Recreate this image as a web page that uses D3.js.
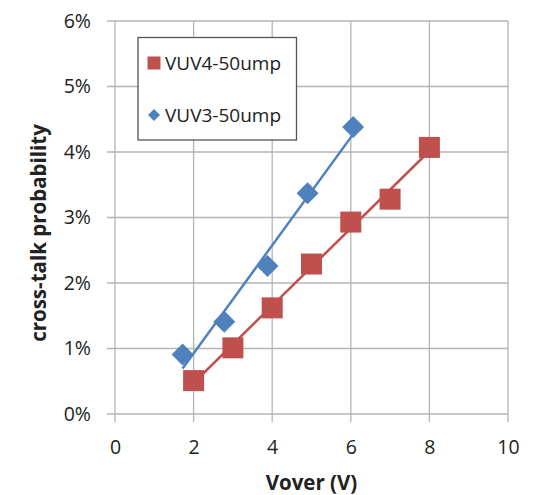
<!DOCTYPE html>
<html>
<head>
<meta charset="utf-8">
<script src="https://cdn.jsdelivr.net/npm/d3@7"></script>
<style>
  html, body { margin: 0; padding: 0; background: #fff; }
  svg { display: block; }
  text { font-family: "Open Sans", "DejaVu Sans", sans-serif; fill: #222; }
</style>
</head>
<body>
<svg id="chart" width="539" height="495"></svg>
<script>
// ---- data ----
const seriesNames = ["VUV4-50ump", "VUV3-50ump"];
const vuv4X = [2, 3, 4, 5, 6, 7, 8];
const vuv4Y = [0.0051, 0.0101, 0.0162, 0.0229, 0.0293, 0.0328, 0.0407];
const vuv3X = [1.72, 2.78, 3.88, 4.9, 6.06];
const vuv3Y = [0.0091, 0.0141, 0.0226, 0.0337, 0.0438];
const xTicks = [0, 2, 4, 6, 8, 10];
const yTicks = [0, 0.01, 0.02, 0.03, 0.04, 0.05, 0.06];
const xTitle = "Vover (V)";
const yTitle = "cross-talk probability";

const colors = { red: "#C0504D", blue: "#4F81BD" };

const svg = d3.select("#chart");
const pL = 115, pR = 508, pT = 21, pB = 414;

const x = d3.scaleLinear().domain([0, 10]).range([pL, pR]);
const y = d3.scaleLinear().domain([0, 0.06]).range([pB, pT]);

const grid = "#b4b4b4";

// gridlines
svg.append("g").selectAll("line.h").data(yTicks).join("line")
  .attr("x1", pL - 8).attr("x2", pR)
  .attr("y1", d => y(d)).attr("y2", d => y(d))
  .attr("stroke", grid).attr("stroke-width", 1.3);
svg.append("g").selectAll("line.v").data(xTicks).join("line")
  .attr("x1", d => x(d)).attr("x2", d => x(d))
  .attr("y1", pT).attr("y2", pB + 8)
  .attr("stroke", grid).attr("stroke-width", 1.3);

// axes labels via d3 axes (no domain lines)
const tickFont = 19.5;
const yAxis = d3.axisLeft(y).tickValues(yTicks).tickFormat(d3.format(".0%")).tickSize(0).tickPadding(24);
const gy = svg.append("g").attr("transform", `translate(${pL},0)`).call(yAxis);
gy.select(".domain").remove();
gy.selectAll("text").attr("font-size", tickFont).attr("fill", "#222")
  .style("font-family", '"Open Sans", sans-serif');

const xAxis = d3.axisBottom(x).tickValues(xTicks).tickFormat(d3.format("d")).tickSize(0).tickPadding(26);
const gx = svg.append("g").attr("transform", `translate(0,${pB})`).call(xAxis);
gx.select(".domain").remove();
gx.selectAll("text").attr("font-size", tickFont).attr("fill", "#222")
  .style("font-family", '"Open Sans", sans-serif');

// axis titles
svg.append("text").attr("x", x(5)).attr("y", 490).attr("text-anchor", "middle")
  .attr("font-size", 20.5).attr("font-weight", "bold").text(xTitle);
svg.append("text").attr("transform", `translate(46,233) rotate(-90)`)
  .attr("text-anchor", "middle").attr("font-size", 20.5).attr("font-weight", "bold").text(yTitle);

// linear trendlines
function fit(xs, ys) {
  const n = xs.length, mx = d3.mean(xs), my = d3.mean(ys);
  let sxy = 0, sxx = 0;
  for (let i = 0; i < n; i++) { sxy += (xs[i] - mx) * (ys[i] - my); sxx += (xs[i] - mx) ** 2; }
  const b = sxy / sxx, a = my - b * mx;
  const x0 = d3.min(xs), x1 = d3.max(xs);
  return [[x0, a + b * x0], [x1, a + b * x1]];
}
const line = d3.line().x(d => x(d[0])).y(d => y(d[1]));
svg.append("path").attr("d", line(fit(vuv4X, vuv4Y))).attr("stroke", colors.red)
  .attr("stroke-width", 2.5).attr("fill", "none");
svg.append("path").attr("d", line(fit(vuv3X, vuv3Y))).attr("stroke", colors.blue)
  .attr("stroke-width", 2.5).attr("fill", "none");

// markers
const sq = 21;
svg.append("g").selectAll("rect").data(vuv4X.map((d, i) => [d, vuv4Y[i]])).join("rect")
  .attr("x", d => x(d[0]) - sq / 2).attr("y", d => y(d[1]) - sq / 2)
  .attr("width", sq).attr("height", sq).attr("fill", colors.red);
const dm = 11;
svg.append("g").selectAll("path").data(vuv3X.map((d, i) => [d, vuv3Y[i]])).join("path")
  .attr("d", d => { const cx = x(d[0]), cy = y(d[1]);
    return `M${cx},${cy - dm}L${cx + dm},${cy}L${cx},${cy + dm}L${cx - dm},${cy}Z`; })
  .attr("fill", colors.blue);

// legend
const lg = svg.append("g");
lg.append("rect").attr("x", 138).attr("y", 37.5).attr("width", 158.5).attr("height", 102.5)
  .attr("fill", "#fff").attr("stroke", "#555").attr("stroke-width", 1.3);
lg.append("rect").attr("x", 147.5).attr("y", 56.5).attr("width", 13).attr("height", 13).attr("fill", colors.red);
lg.append("path").attr("d", "M154,109L160,115L154,121L148,115Z").attr("fill", colors.blue);
lg.append("text").attr("x", 165).attr("y", 70).attr("font-size", 19).text(seriesNames[0]);
lg.append("text").attr("x", 165).attr("y", 122).attr("font-size", 19).text(seriesNames[1]);
</script>
</body>
</html>
